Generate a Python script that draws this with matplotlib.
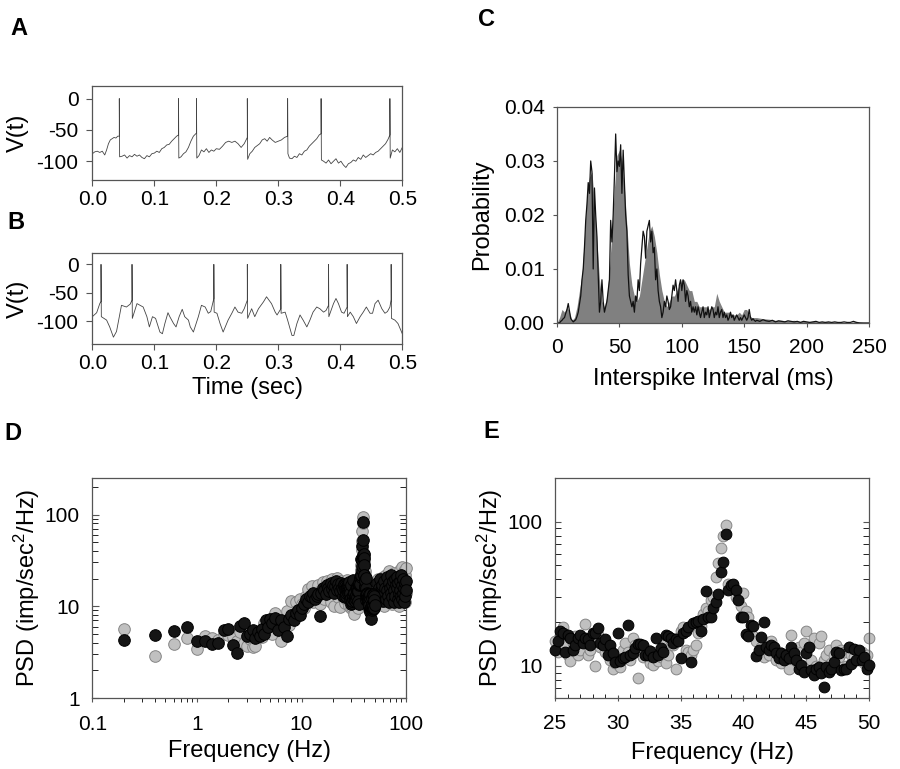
import numpy as np
import matplotlib.pyplot as plt

plt.rcParams['font.family'] = ['Liberation Sans', 'DejaVu Sans']
plt.rcParams['mathtext.fontset'] = 'custom'
plt.rcParams['mathtext.rm'] = 'Liberation Sans'
plt.rcParams['mathtext.it'] = 'Liberation Sans:italic'
plt.rcParams['axes.unicode_minus'] = False

# ---- A: voltage trace, regular firing ----
a_t = [0.000, 0.004, 0.008, 0.012, 0.016, 0.020, 0.023, 0.026, 0.029, 0.032, 0.035, 0.038, 0.041, 0.0435, 0.0435, 0.0440,
       0.048, 0.052, 0.056, 0.060, 0.064, 0.068, 0.072, 0.076, 0.080, 0.084, 0.088, 0.092, 0.096, 0.100, 0.104, 0.108,
       0.112, 0.116, 0.120, 0.124, 0.128, 0.132, 0.136, 0.139, 0.139, 0.1395,
       0.143, 0.147, 0.151, 0.155, 0.159, 0.163, 0.168, 0.168, 0.1685,
       0.172, 0.176, 0.180, 0.184, 0.188, 0.192, 0.196, 0.200, 0.205, 0.210, 0.215, 0.220, 0.225, 0.230, 0.235, 0.240,
       0.245, 0.250, 0.250, 0.2505,
       0.254, 0.258, 0.262, 0.266, 0.270, 0.274, 0.278, 0.282, 0.286, 0.290, 0.295, 0.300, 0.305, 0.310, 0.315, 0.315, 0.3155,
       0.318, 0.322, 0.326, 0.330, 0.334, 0.338, 0.342, 0.346, 0.350, 0.354, 0.358, 0.362, 0.366, 0.369, 0.369, 0.3695,
       0.373, 0.377, 0.381, 0.385, 0.389, 0.393, 0.397, 0.401, 0.405, 0.409, 0.413, 0.417, 0.421, 0.425, 0.429, 0.433,
       0.437, 0.441, 0.445, 0.449, 0.453, 0.457, 0.461, 0.465, 0.469, 0.473, 0.477, 0.480, 0.480, 0.4805,
       0.484, 0.488, 0.492, 0.496, 0.500]
a_v = [-88, -85, -84, -86, -84, -90, -82, -72, -66, -64, -62, -63, -60, -60, 0, -93,
       -92, -90, -95, -91, -93, -89, -92, -90, -94, -96, -91, -93, -88, -87, -84, -86,
       -80, -78, -74, -73, -68, -64, -60, -58, 0, -95,
       -93, -88, -85, -78, -68, -60, -55, 0, -95,
       -91, -82, -85, -80, -86, -82, -84, -80, -81, -76, -70, -68, -70, -68, -72, -78,
       -72, -62, 0, -97,
       -88, -84, -78, -75, -72, -66, -64, -68, -62, -66, -70, -68, -66, -62, -60, 0, -88,
       -95, -96, -92, -94, -88, -90, -84, -82, -76, -72, -68, -64, -58, -56, 0, -98,
       -100, -103, -98, -104, -100, -96, -103, -100, -106, -110, -104, -102, -98, -100, -94, -97,
       -90, -94, -91, -88, -90, -86, -84, -80, -76, -72, -65, -58, 0, -95,
       -82, -85, -80, -86, -78]

# ---- B: voltage trace, oscillating ----
b_t = [0.000, 0.007, 0.012, 0.014, 0.014, 0.0145, 0.023, 0.028, 0.034, 0.039, 0.047, 0.055, 0.061, 0.064, 0.064, 0.0645,
       0.072, 0.077, 0.082, 0.088, 0.092, 0.097, 0.102, 0.109, 0.113, 0.117, 0.122, 0.125, 0.131, 0.135, 0.140, 0.145,
       0.149, 0.155, 0.158, 0.163, 0.171, 0.176, 0.182, 0.187, 0.191, 0.196, 0.196, 0.1965,
       0.201, 0.206, 0.211, 0.219, 0.225, 0.230, 0.235, 0.241, 0.245, 0.250, 0.250, 0.2505,
       0.257, 0.262, 0.268, 0.276, 0.281, 0.289, 0.295, 0.298, 0.303, 0.304, 0.304, 0.3045,
       0.311, 0.315, 0.322, 0.325, 0.330, 0.335, 0.340, 0.346, 0.351, 0.356, 0.362, 0.367, 0.373, 0.377, 0.381, 0.381, 0.3815,
       0.389, 0.393, 0.397, 0.402, 0.406, 0.411, 0.411, 0.4115,
       0.416, 0.421, 0.426, 0.432, 0.437, 0.442, 0.448, 0.452, 0.456, 0.461, 0.467, 0.472, 0.476, 0.480, 0.482, 0.482, 0.4825,
       0.488, 0.493, 0.500]
b_v = [-92, -85, -69, -65, 0, -92, -98, -110, -128, -118, -72, -75, -70, -63, 0, -95,
       -69, -72, -75, -92, -110, -92, -95, -119, -122, -104, -85, -92, -104, -110, -92, -79,
       -92, -98, -110, -119, -92, -72, -75, -86, -83, -60, 0, -84,
       -86, -104, -119, -98, -86, -75, -84, -86, -78, -63, 0, -95,
       -78, -92, -78, -66, -57, -69, -84, -89, -80, -78, 0, -86,
       -84, -98, -125, -125, -104, -89, -98, -110, -98, -84, -75, -78, -84, -81, -72, 0, -92,
       -69, -60, -69, -84, -86, -75, 0, -92,
       -84, -92, -104, -92, -84, -75, -86, -86, -69, -63, -78, -86, -83, -75, -62, 0, -95,
       -98, -104, -122]

# ---- C: interspike interval histograms ----
c_gray_x = list(range(0, 158, 2)) + list(range(160, 255, 5))
c_gray = [0, 0.001, 0.0025, 0.002, 0.003, 0.002, 0.0005, 0.001, 0.003, 0.006,
          0.009, 0.016, 0.024, 0.027, 0.028, 0.022, 0.015, 0.008, 0.004, 0.003,
          0.005, 0.010, 0.017, 0.025, 0.031, 0.032, 0.030, 0.025, 0.018, 0.011,
          0.007, 0.005, 0.004, 0.005, 0.008, 0.011, 0.014, 0.017, 0.018, 0.016,
          0.013, 0.009, 0.006, 0.004, 0.003, 0.004, 0.005, 0.005, 0.006, 0.007,
          0.008, 0.008, 0.007, 0.006, 0.006, 0.004, 0.004, 0.003, 0.003, 0.003,
          0.003, 0.0025, 0.003, 0.003, 0.0055, 0.004, 0.003, 0.002, 0.002, 0.002,
          0.0015, 0.0015, 0.0015, 0.002, 0.0015, 0.0025, 0.0025, 0.0015, 0.001,
          0.001, 0.0008, 0.0007, 0.0005, 0.0005, 0.0004, 0.0005, 0.0003, 0.0003, 0.0003,
          0.0002, 0.0003, 0.0002, 0.0002, 0.0001, 0.0001, 0.0003, 0.0001, 0]
c_black_x = list(np.arange(0, 160, 1.0)) + list(np.arange(160, 250.1, 2.5))
c_black = [0, 0, 0, 0.0003, 0.0005, 0.0008, 0.001, 0.0018, 0.0025, 0.0036,
           0.0022, 0.0008, 0.0005, 0.0002, 0.0004, 0.0006, 0.0012, 0.002, 0.0035, 0.005,
           0.008, 0.010, 0.014, 0.019, 0.022, 0.026, 0.024, 0.030, 0.028, 0.010,
           0.025, 0.020, 0.016, 0.009, 0.002, 0.004, 0.008, 0.004, 0.002, 0.003,
           0.004, 0.006, 0.008, 0.019, 0.015, 0.020, 0.027, 0.035, 0.028, 0.030,
           0.029, 0.033, 0.024, 0.032, 0.026, 0.020, 0.017, 0.009, 0.005, 0.004,
           0.003, 0.004, 0.002, 0.005, 0.004, 0.008, 0.006, 0.011, 0.014, 0.017,
           0.016, 0.012, 0.017, 0.018, 0.019, 0.015, 0.017, 0.013, 0.014, 0.008,
           0.010, 0.006, 0.004, 0.003, 0.001, 0.002, 0.004, 0.003, 0.005, 0.004,
           0.0025, 0.003, 0.005, 0.007, 0.006, 0.008, 0.006, 0.004, 0.007, 0.008,
           0.006, 0.008, 0.007, 0.004, 0.006, 0.005, 0.003, 0.004, 0.002, 0.003,
           0.002, 0.003, 0.0015, 0.003, 0.002, 0.001, 0.002, 0.003, 0.001, 0.002,
           0.0015, 0.003, 0.001, 0.002, 0.003, 0.0025, 0.001, 0.002, 0.0015, 0.003,
           0.001, 0.002, 0.0025, 0.001, 0.002, 0.001, 0.0015, 0.0005, 0.001, 0.002,
           0.001, 0.0015, 0.0005, 0.001, 0.0015, 0.001, 0.0005, 0.001, 0.0005, 0.001,
           0.0015, 0.001, 0.0005, 0.001, 0.0025, 0.001, 0.0005, 0.0008, 0.0005, 0.0003,
           0.0005, 0.0003, 0.0006, 0.0004, 0.0003, 0.0005, 0.0002, 0.0004, 0.0003, 0.0002,
           0.0004, 0.0003, 0.0002, 0.0003, 0.0001, 0.0003, 0.0002, 0.0001, 0.0002, 0.0003,
           0.0001, 0.0002, 0.0001, 0.0002, 0.0001, 0.0002, 0.0001, 0.0001, 0.0002, 0.0001,
           0.0001, 0.0003, 0.0001, 0, 0, 0, 0]

# ---- E: PSD 25-50 Hz (0.2 Hz bins) ----
e_f = list(np.round(np.arange(25.0, 50.01, 0.2), 1))
e_black = [13.0, 15.0, 17.4, 17.0, 12.5, 16.5, 15.5, 13.0, 14.0, 15.5, 16.5, 14.5, 15.7, 15.3, 14.0, 16.9, 17.0, 18.2, 14.4, 14.0, 15.3, 12.0, 14.0, 12.2, 10.6,
           16.9, 10.8, 11.3, 11.5, 19.3, 11.9, 12.2, 13.4, 14.1, 14.1, 14.0, 12.0, 11.9, 12.7, 11.5, 15.7, 11.9, 13.4, 12.5, 16.5, 16.0, 15.7, 14.4, 15.3, 14.8,
           11.3, 16.9, 17.5, 18.6, 10.6, 19.8, 20.2, 20.5, 17.4, 21.0, 33.0, 22.0, 21.9, 25.0, 27.8, 31.7, 45.0, 52.5, 82.0, 33.4, 36.2, 37.0, 33.4, 28.5, 22.0,
           22.0, 16.7, 16.1, 19.2, 18.9, 11.8, 12.9, 15.9, 20.2, 13.6, 12.9, 14.0, 13.6, 12.2, 11.3, 12.2, 11.0, 11.9, 11.3, 13.6, 12.2, 11.0, 9.6, 10.2, 9.1,
           12.2, 13.6, 9.4, 8.7, 9.6, 9.9, 8.9, 7.2, 9.9, 9.1, 9.6, 10.7, 12.5, 12.2, 9.4, 9.5, 9.6, 13.6, 10.4, 13.2, 11.0, 12.9, 11.0, 11.6, 9.6, 10.2]
e_gray = [15.0, 12.5, 16.0, 18.5, 14.0, 12.0, 10.8, 14.5, 16.0, 12.0, 13.0, 15.5, 19.5, 12.0, 13.0, 15.0, 10.0, 16.5, 13.5, 15.0, 12.5, 14.0, 11.0, 9.6, 10.5,
          12.0, 9.8, 13.0, 14.5, 12.5, 11.0, 15.5, 14.0, 8.2, 13.5, 11.5, 12.0, 13.0, 10.5, 10.2, 12.5, 10.8, 11.5, 14.0, 10.5, 12.0, 15.0, 14.0, 9.5, 15.5,
          17.5, 18.5, 13.0, 12.5, 12.0, 13.0, 14.0, 17.0, 19.0, 23.0, 25.0, 24.0, 28.5, 30.0, 41.0, 52.0, 66.0, 80.0, 94.0, 37.0, 34.0, 36.0, 30.0, 29.0, 26.0,
          32.0, 24.0, 22.0, 17.0, 16.0, 15.0, 12.0, 13.5, 11.5, 14.5, 12.0, 15.0, 13.0, 11.0, 12.5, 10.5, 11.5, 12.0, 9.5, 16.5, 12.5, 11.0, 13.5, 12.5, 14.5,
          17.5, 13.5, 11.0, 15.5, 10.0, 14.5, 16.0, 11.0, 12.0, 13.0, 10.5, 12.0, 14.0, 11.5, 13.0, 12.5, 10.0, 13.5, 12.0, 11.5, 13.0, 11.0, 12.5, 10.5, 12.0, 15.5]

# ---- D: PSD 0.1-100 Hz (outside the 25-50 Hz window shown in E) ----
d_f = (list(np.round(np.arange(0.2, 5.01, 0.2), 1)) + list(np.round(np.arange(5.2, 10.01, 0.4), 1))
       + list(np.arange(10.5, 24.6, 0.5)) + list(np.arange(51, 101, 1.0)))
d_black = [4.3, 4.9, 5.35, 5.9, 4.2, 4.2, 3.9, 4.0, 5.5, 5.7, 3.8, 3.1, 6.1, 6.6, 4.8, 5.0, 5.5, 4.5, 5.2, 4.8, 5.6, 5.0, 7.0, 6.0, 7.2,
           6.5, 7.5, 5.5, 7.0, 6.0, 4.7, 7.2, 8.0, 7.0, 8.5, 9.0, 8.0, 9.5,
           10.5, 12.0, 11.0, 13.0, 12.5, 14.0, 12.0, 13.0, 13.5, 7.8, 14.0, 16.0, 15.0, 13.5, 17.0, 16.0, 14.5, 18.0, 15.5, 17.0,
           14.0, 16.5, 19.0, 15.0, 17.5, 16.0, 14.5, 18.0, 16.0,
           14, 11, 18, 13, 16, 20, 12, 15, 17, 11.5, 19, 14, 16, 12, 21, 15, 13, 18, 11, 16,
           22, 14, 17, 12.5, 19, 15, 11, 20, 13, 17, 16, 21, 12, 18, 14, 11, 19, 15, 22, 13,
           17, 12, 20, 14, 16, 11, 18, 13, 19, 15]
d_gray = [5.6, 2.86, 3.86, 4.5, 3.4, 4.8, 4.5, 4.3, 5.0, 4.9, 4.6, 4.2, 5.3, 4.0, 3.7, 4.4, 3.6, 3.7, 4.6, 5.0, 4.6, 6.5, 5.2, 6.8, 5.8,
          5.0, 8.5, 7.0, 4.2, 6.5, 8.8, 6.2, 11.5, 8.0, 11.0, 9.0, 12.0, 10.5,
          9.5, 13.0, 15.5, 12.0, 16.5, 11.0, 14.0, 13.0, 17.0, 10.5, 15.0, 18.5, 12.0, 16.0, 19.0, 13.5, 17.5, 11.0, 20.0, 15.0,
          10.0, 18.0, 14.0, 20.5, 12.5, 17.0, 9.8, 19.0, 15.5,
          12, 17, 10.5, 20, 14, 11, 19, 16, 13, 21, 15, 10, 18, 22, 12, 17, 14, 24, 11, 19,
          13, 16, 21, 10.5, 18, 23, 15, 12, 20, 17, 11, 19, 14, 22, 16, 10, 18, 25, 13, 21,
          15, 27, 12, 19, 17, 24, 11, 22, 26, 14]

TICK = 15
LAB = 17
SPINE = '#555555'


def style(ax, pad_x=3.5, pad_y=6):
    for s in ax.spines.values():
        s.set_color(SPINE)
        s.set_linewidth(0.9)
    ax.tick_params(labelsize=TICK, color=SPINE, width=0.8)
    ax.tick_params(axis='x', pad=pad_x)
    ax.tick_params(axis='y', pad=pad_y)


fig = plt.figure(figsize=(9, 7.69), dpi=100)

# panel A
axA = fig.add_axes([0.1026, 0.7659, 0.3444, 0.1222])
axA.plot(a_t, a_v, color='#444444', lw=0.6)
axA.set_xlim(0, 0.5)
axA.set_ylim(-130, 20)
axA.set_xticks([0.0, 0.1, 0.2, 0.3, 0.4, 0.5])
axA.set_xticklabels(['0.0', '0.1', '0.2', '0.3', '0.4', '0.5'])
axA.set_yticks([0, -50, -100])
axA.tick_params(direction='out', length=4)
style(axA, pad_x=3, pad_y=6)
axA.set_ylabel('V(t)', fontsize=LAB)
axA.yaxis.set_label_coords(-0.205, 0.5)

# panel B
axB = fig.add_axes([0.1026, 0.5527, 0.3444, 0.1183])
axB.plot(b_t, b_v, color='#444444', lw=0.6)
axB.set_xlim(0, 0.5)
axB.set_ylim(-140, 20)
axB.set_xticks([0.0, 0.1, 0.2, 0.3, 0.4, 0.5])
axB.set_xticklabels(['0.0', '0.1', '0.2', '0.3', '0.4', '0.5'])
axB.set_yticks([0, -50, -100])
axB.tick_params(direction='out', length=4)
style(axB, pad_x=3, pad_y=6)
axB.set_ylabel('V(t)', fontsize=LAB)
axB.yaxis.set_label_coords(-0.205, 0.5)
axB.set_xlabel('Time (sec)', fontsize=LAB)
axB.xaxis.set_label_coords(0.5, -0.36)

# panel C
axC = fig.add_axes([0.6189, 0.58, 0.3467, 0.2809])
axC.fill_between(c_gray_x, c_gray, color='#808080', lw=0)
axC.plot(c_black_x, c_black, color='#111111', lw=0.9)
axC.set_xlim(0, 250)
axC.set_ylim(0, 0.04)
axC.set_xticks([0, 50, 100, 150, 200, 250])
axC.set_yticks([0.0, 0.01, 0.02, 0.03, 0.04])
axC.set_yticklabels(['0.00', '0.01', '0.02', '0.03', '0.04'])
axC.tick_params(direction='out', length=3)
style(axC, pad_x=8, pad_y=6)
axC.set_ylabel('Probability', fontsize=LAB)
axC.yaxis.set_label_coords(-0.205, 0.5)
axC.set_xlabel('Interspike Interval (ms)', fontsize=LAB)
axC.xaxis.set_label_coords(0.5, -0.21)

psd_label = 'PSD (imp/sec$^{2}$/Hz)'

# panel D
axD = fig.add_axes([0.1026, 0.0923, 0.3486, 0.2861])
axD.scatter(d_f + e_f, d_gray + e_gray, s=70, c='#c0c0c0', edgecolors='#858585', linewidths=0.7, clip_on=False, zorder=2)
axD.scatter(d_f + e_f, d_black + e_black, s=70, c='#151515', edgecolors='#000000', linewidths=0.7, clip_on=False, zorder=3)
axD.set_xscale('log')
axD.set_yscale('log')
axD.set_xlim(0.1, 100)
axD.set_ylim(1, 250)
axD.set_xticks([0.1, 1, 10, 100])
axD.set_xticklabels(['0.1', '1', '10', '100'])
axD.set_yticks([1, 10, 100])
axD.set_yticklabels(['1', '10', '100'])
axD.yaxis.set_minor_formatter(plt.NullFormatter())
axD.xaxis.set_minor_formatter(plt.NullFormatter())
axD.tick_params(axis='y', which='both', direction='in', right=True)
axD.tick_params(axis='y', which='major', length=5)
axD.tick_params(axis='y', which='minor', length=4)
axD.tick_params(axis='x', which='both', direction='out', length=3)
style(axD, pad_x=9, pad_y=9)
axD.set_ylabel(psd_label, fontsize=LAB)
axD.yaxis.set_label_coords(-0.16, 0.5)
axD.set_xlabel('Frequency (Hz)', fontsize=LAB)
axD.xaxis.set_label_coords(0.5, -0.19)

# panel E
axE = fig.add_axes([0.6167, 0.0923, 0.3489, 0.2861])
axE.scatter(e_f, e_gray, s=60, c='#c0c0c0', edgecolors='#858585', linewidths=0.7, clip_on=False, zorder=2)
axE.scatter(e_f, e_black, s=60, c='#151515', edgecolors='#000000', linewidths=0.7, clip_on=False, zorder=3)
axE.set_yscale('log')
axE.set_xlim(25, 50)
axE.set_ylim(6, 200)
axE.set_xticks([25, 30, 35, 40, 45, 50])
axE.set_xticks(np.arange(25, 51, 1), minor=True)
axE.set_yticks([10, 100])
axE.set_yticklabels(['10', '100'])
axE.yaxis.set_minor_formatter(plt.NullFormatter())
axE.tick_params(axis='y', which='both', direction='in', right=True, length=4)
axE.tick_params(axis='x', which='major', direction='inout', length=5)
axE.tick_params(axis='x', which='minor', direction='in', length=3)
style(axE, pad_x=9, pad_y=9)
axE.set_ylabel(psd_label, fontsize=LAB)
axE.yaxis.set_label_coords(-0.16, 0.5)
axE.set_xlabel('Frequency (Hz)', fontsize=LAB)
axE.xaxis.set_label_coords(0.5, -0.20)

# panel letters
for lab, x, y in [('A', 0.021, 0.963), ('B', 0.018, 0.711), ('C', 0.541, 0.974),
                  ('D', 0.014, 0.436), ('E', 0.546, 0.439)]:
    fig.text(x, y, lab, fontsize=17, fontweight='bold', ha='center', va='center')

fig.savefig('out.png', dpi=100)
